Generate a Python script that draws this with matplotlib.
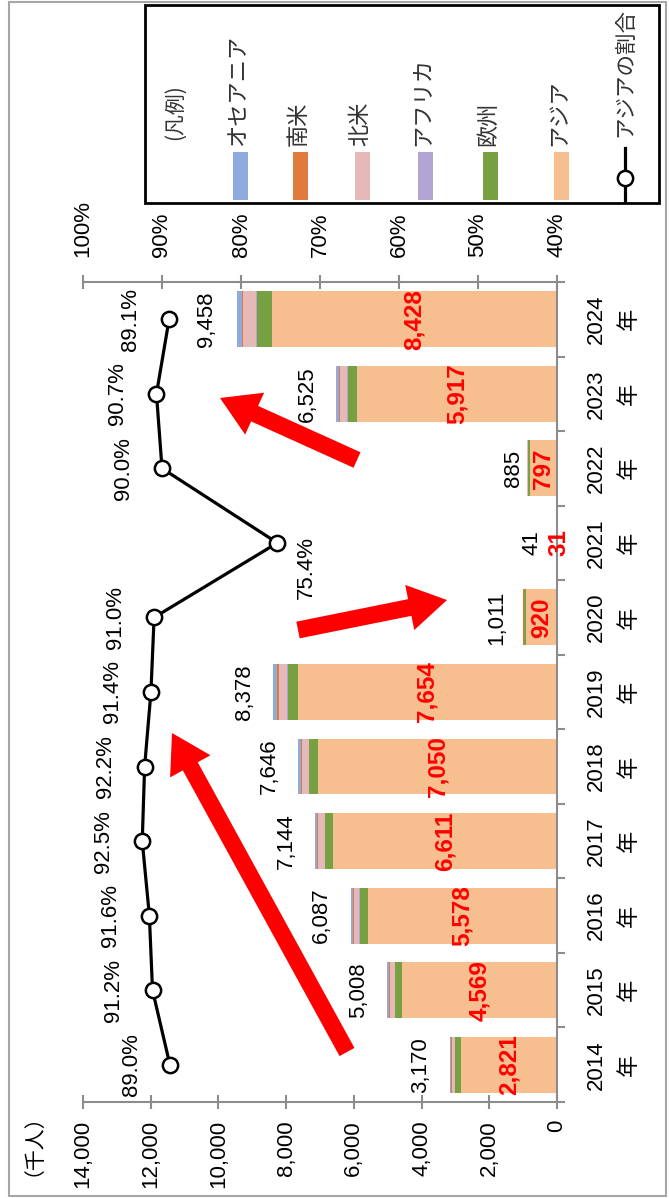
import numpy as np
import matplotlib.pyplot as plt
from matplotlib import font_manager
from matplotlib.patches import Rectangle, FancyArrow
from matplotlib.ticker import FuncFormatter

# データ（千人）
years = ['2014', '2015', '2016', '2017', '2018', '2019', '2020', '2021', '2022', '2023', '2024']
asia = [2821, 4569, 5578, 6611, 7050, 7654, 920, 31, 797, 5917, 8428]
europe = [180, 210, 255, 230, 270, 300, 43, 3, 50, 260, 440]
africa = [9, 14, 14, 13, 16, 24, 3, 1, 5, 18, 30]
n_america = [100, 140, 160, 200, 200, 230, 20, 3, 20, 200, 370]
s_america = [20, 25, 30, 20, 20, 50, 5, 1, 3, 40, 40]
oceania = [40, 50, 50, 70, 90, 120, 20, 2, 10, 90, 150]
totals = [3170, 5008, 6087, 7144, 7646, 8378, 1011, 41, 885, 6525, 9458]
asia_share = [89.0, 91.2, 91.6, 92.5, 92.2, 91.4, 91.0, 75.4, 90.0, 90.7, 89.1]

seg_names = ['アジア', '欧州', 'アフリカ', '北米', '南米', 'オセアニア']
seg_values = [asia, europe, africa, n_america, s_america, oceania]
seg_colors = ['#F7BF90', '#77A043', '#B3A5D3', '#E6B9B8', '#E07B3C', '#8FAADC']

# フォント
installed = {f.name for f in font_manager.fontManager.ttflist}
if 'Liberation Sans Narrow' in installed:
    NUM_FONT, NUM_SIZE = 'Liberation Sans Narrow', 18.5
else:
    NUM_FONT, NUM_SIZE = 'Liberation Sans', 16
JP_FONT = 'Noto Sans CJK JP'
plt.rcParams['font.family'] = [NUM_FONT, JP_FONT, 'DejaVu Sans']

W, H = 669, 1198
gray = '#8C8C8C'

fig = plt.figure(figsize=(W / 100, H / 100), dpi=100)
ax = fig.add_axes([83 / W, 1 - 1102 / H, (557 - 83) / W, (1102 - 282) / H])

ypos = np.arange(len(years))
left = np.zeros(len(years))
for vals, col in zip(seg_values, seg_colors):
    ax.barh(ypos, vals, left=left, height=0.75, color=col, linewidth=0)
    left += np.array(vals)

ax.set_xlim(14000, 0)
ax.set_ylim(-0.5, len(years) - 0.5)
ax.set_xticks(np.arange(0, 14001, 2000))
ax.xaxis.set_major_formatter(FuncFormatter(lambda v, p: f'{v:,.0f}'))
ax.tick_params(axis='x', direction='inout', length=10, width=1.5, color=gray,
               pad=8, labelrotation=90, labelsize=NUM_SIZE)

ax.yaxis.tick_right()
ax.set_yticks(ypos)
ax.set_yticklabels([f'{y}\n年' for y in years])
ax.set_yticks(np.arange(-0.5, len(years)), minor=True)
ax.tick_params(axis='y', which='major', length=0, pad=21, labelrotation=90,
               labelsize=NUM_SIZE)
ax.tick_params(axis='y', which='minor', direction='out', length=6, width=1.5, color=gray)
for lbl in ax.get_yticklabels():
    lbl.set_va('center')
    lbl.set_multialignment('center')
    lbl.set_linespacing(1.75)

for s in ['left', 'top']:
    ax.spines[s].set_visible(False)
for s in ['bottom', 'right']:
    ax.spines[s].set_color(gray)
    ax.spines[s].set_linewidth(1.5)

# 合計ラベルとアジアのラベル
tot_offset = [-21, -21, -21, -21, -21, -21, -19, -17, -10, -21, -22]
for i in ypos:
    ax.annotate(f'{totals[i]:,}', xy=(totals[i], i), xytext=(tot_offset[i], 0),
                textcoords='offset points', ha='center', va='center',
                rotation=90, fontsize=NUM_SIZE, color='black')
    ax.annotate(f'{asia[i]:,}', xy=(asia[i] / 2, i), xytext=(2 if asia[i] < 100 else 0, 0),
                textcoords='offset points', ha='center', va='center', rotation=90,
                fontsize=NUM_SIZE + 1.5, fontweight='bold', color='#FF0000')

# アジアの割合（折れ線）
ax2 = ax.twiny()
ax2.set_xlim(100, 40)
ax2.set_ylim(ax.get_ylim())
ax2.plot(asia_share, ypos, color='black', lw=2.3, marker='o', ms=11,
         mfc='white', mec='black', mew=1.8, zorder=5)
ax2.set_xticks(np.arange(40, 101, 10))
ax2.xaxis.set_major_formatter(FuncFormatter(lambda v, p: f'{v:.0f}%'))
ax2.tick_params(axis='x', direction='inout', length=10, width=1.5, color=gray,
                pad=13, labelrotation=90, labelsize=NUM_SIZE)
for s in ['left', 'right', 'bottom']:
    ax2.spines[s].set_visible(False)
ax2.spines['top'].set_color(gray)
ax2.spines['top'].set_linewidth(1.5)

for i in ypos:
    if asia_share[i] < 80:
        off = (21, -18)
    else:
        off = (-28, 0)
    ax2.annotate(f'{asia_share[i]:.1f}%', xy=(asia_share[i], i), xytext=off,
                 textcoords='offset points', ha='center', va='center',
                 rotation=90, fontsize=NUM_SIZE)

# 重ね描き用（ピクセル座標）：枠、凡例、矢印
ov = fig.add_axes([0, 0, 1, 1], zorder=10)
ov.set_xlim(0, W)
ov.set_ylim(H, 0)
ov.axis('off')
ov.patch.set_alpha(0)

ov.add_patch(Rectangle((9, 2), 657, 1194, fill=False, ec='#A6A6A6', lw=1.5))
ov.text(23, 1134, '（千人）', rotation=90, ha='center', va='center',
        fontsize=15, family=JP_FONT)

# 凡例
ov.add_patch(Rectangle((145, 5), 514, 198, fill=False, ec='black', lw=2))
ov.text(175, 112, '(凡例)', rotation=90, ha='center', va='center',
        fontsize=15, family=JP_FONT, color='#333333')
leg_x = [240, 300, 362, 425, 490, 561]
for xc, name, col in zip(leg_x, seg_names[::-1], seg_colors[::-1]):
    ov.add_patch(Rectangle((xc - 7.5, 152), 15, 48, color=col, lw=0))
    ov.text(xc - 2, 146, name, rotation=90, ha='center', va='bottom',
            fontsize=16, family=JP_FONT, color='#333333')
ov.plot([625, 625], [148, 201], color='black', lw=2.3)
ov.plot([625], [178], marker='o', ms=11, mfc='white', mec='black', mew=1.8)
ov.text(625, 137, 'アジアの割合', rotation=90, ha='center', va='bottom',
        fontsize=15.5, family=JP_FONT, color='#333333')

# 赤い矢印
arrows = [((347, 1052), (172, 733)), ((298, 630), (447, 600)), ((357, 460), (220, 398))]
for (x0, y0), (x1, y1) in arrows:
    ov.add_patch(FancyArrow(x0, y0, x1 - x0, y1 - y0, width=17, head_width=46,
                            head_length=38, length_includes_head=True,
                            fc='#FF0000', ec='none'))

fig.savefig('out.png', dpi=100)
